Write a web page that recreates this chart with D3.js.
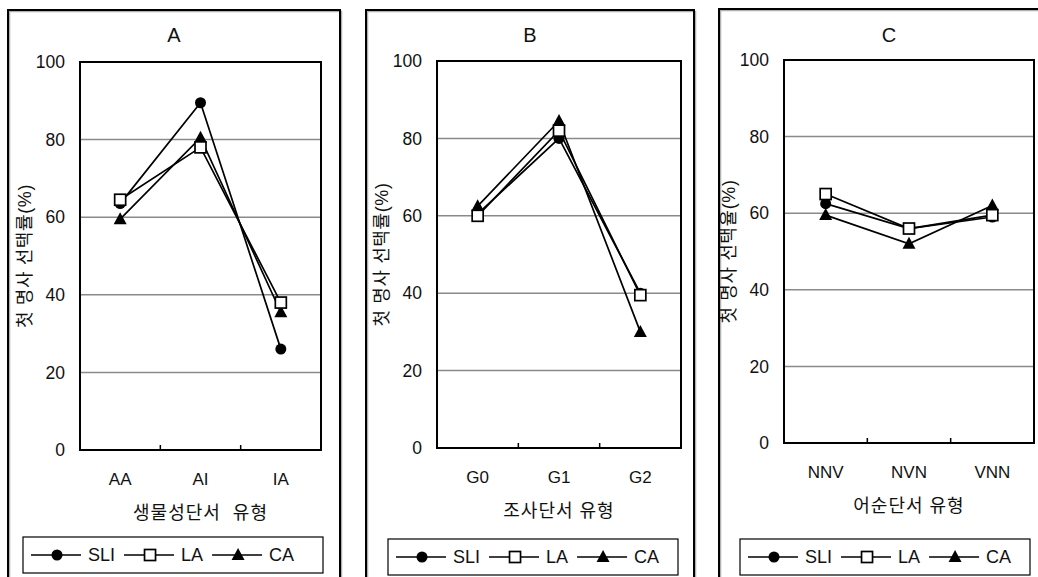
<!DOCTYPE html>
<html><head><meta charset="utf-8">
<script src="https://cdn.jsdelivr.net/npm/d3@7/dist/d3.min.js"></script>
<style>
html,body{margin:0;padding:0;background:#fff;}
svg{display:block;font-family:"Liberation Sans","Noto Sans CJK KR",sans-serif;}
</style></head>
<body><svg id="chart" width="1038" height="577"></svg>
<script>
// ---- data ----
const seriesNames = ["SLI", "LA", "CA"];
const yTicks = [0, 20, 40, 60, 80, 100];

const categoriesA = ["AA", "AI", "IA"];
const sliA = [63.5, 89.5, 26];
const laA  = [64.5, 78, 38];
const caA  = [59.5, 80.5, 35.5];

const categoriesB = ["G0", "G1", "G2"];
const sliB = [60.5, 80, 40];
const laB  = [60, 82, 39.5];
const caB  = [62.5, 84.5, 30];

const categoriesC = ["NNV", "NVN", "VNN"];
const sliC = [62.5, 56, 59];
const laC  = [65, 56, 59.5];
const caC  = [59.5, 52, 62];

const titles = ["A", "B", "C"];
const xTitles = ["생물성단서  유형", "조사단서 유형", "어순단서 유형"];
const yTitles = ["첫 명사 선택률(%)", "첫 명사 선택률(%)", "첫 명사 선택율(%)"];

// ---- layout ----
const panels = [
  {frame:{x0:8,x1:340,y0:10}, plot:{x0:80,x1:321,y0:62,y1:450}, legend:{x0:23,x1:323,y0:537,y1:573},
   cats:categoriesA, data:{SLI:sliA, LA:laA, CA:caA}},
  {frame:{x0:366,x1:694,y0:10}, plot:{x0:437,x1:681,y0:61,y1:448}, legend:{x0:388,x1:678,y0:539,y1:575},
   cats:categoriesB, data:{SLI:sliB, LA:laB, CA:caB}},
  {frame:{x0:719,x1:1062,y0:9}, plot:{x0:784,x1:1034,y0:60,y1:443}, legend:{x0:740,x1:1030,y0:539,y1:575},
   cats:categoriesC, data:{SLI:sliC, LA:laC, CA:caC}}
];

const FONT = '"Liberation Sans","Noto Sans CJK KR",sans-serif';
const svg = d3.select("#chart");

function marker(g, name, x, y) {
  if (name === "SLI") {
    g.append("circle").attr("cx", x).attr("cy", y).attr("r", 5.5).attr("fill", "#000");
  } else if (name === "LA") {
    g.append("rect").attr("x", x - 5.5).attr("y", y - 5.5).attr("width", 11).attr("height", 11)
      .attr("fill", "#fff").attr("stroke", "#000").attr("stroke-width", 1.7);
  } else {
    g.append("path").attr("d", `M${x},${y-7}L${x+6.5},${y+5}L${x-6.5},${y+5}Z`).attr("fill", "#000");
  }
}

panels.forEach((p, i) => {
  const g = svg.append("g");
  const fb = 600;
  g.append("path").attr("d", `M${p.frame.x0+1.5},${fb}V${p.frame.y0+1.5}H${p.frame.x1+1.5}V${fb}`)
    .attr("fill", "none").attr("stroke", "#b0b0b0").attr("stroke-width", 1.5);
  g.append("path").attr("d", `M${p.frame.x0},${fb}V${p.frame.y0}H${p.frame.x1}V${fb}`)
    .attr("fill", "none").attr("stroke", "#000").attr("stroke-width", 2);

  const x = d3.scaleBand().domain(p.cats).range([p.plot.x0, p.plot.x1]);
  const y = d3.scaleLinear().domain([0, 100]).range([p.plot.y1, p.plot.y0]);
  const cx = c => x(c) + x.bandwidth() / 2;

  g.append("g").selectAll("line").data(yTicks.filter(t => t > 0 && t < 100)).join("line")
    .attr("x1", p.plot.x0).attr("x2", p.plot.x1).attr("y1", d => y(d)).attr("y2", d => y(d))
    .attr("stroke", "#8a8a8a").attr("stroke-width", 1.5);

  const yAxis = d3.axisLeft(y).tickValues(yTicks).tickSize(0).tickPadding(15);
  const ya = g.append("g").attr("transform", `translate(${p.plot.x0},0)`).call(yAxis);
  ya.select(".domain").remove();
  ya.selectAll("text").attr("font-size", 17.5).attr("fill", "#111").attr("font-family", FONT);

  const xAxis = d3.axisBottom(x).tickSize(0).tickPadding(23);
  const xa = g.append("g").attr("transform", `translate(0,${p.plot.y1})`).call(xAxis);
  xa.select(".domain").remove();
  xa.selectAll("text").attr("font-size", 17).attr("fill", "#111").attr("font-family", FONT);

  g.append("g").selectAll("line").data(p.cats.slice(1)).join("line")
    .attr("x1", d => x(d)).attr("x2", d => x(d)).attr("y1", p.plot.y1).attr("y2", p.plot.y1 - 5)
    .attr("stroke", "#000").attr("stroke-width", 1.5);

  g.append("rect").attr("x", p.plot.x0).attr("y", p.plot.y0)
    .attr("width", p.plot.x1 - p.plot.x0).attr("height", p.plot.y1 - p.plot.y0)
    .attr("fill", "none").attr("stroke", "#000").attr("stroke-width", 2);

  const line = d3.line().x((d, j) => cx(p.cats[j])).y(d => y(d));
  seriesNames.forEach(s => {
    g.append("path").attr("d", line(p.data[s])).attr("fill", "none")
      .attr("stroke", "#000").attr("stroke-width", 1.7);
  });
  ["CA", "SLI", "LA"].forEach(s => {
    p.data[s].forEach((v, j) => marker(g, s, cx(p.cats[j]), y(v)));
  });

  const fcx = (p.frame.x0 + Math.min(p.frame.x1, 1058)) / 2;
  g.append("text").attr("x", i === 2 ? 889 : fcx).attr("y", 35).attr("dy", "0.35em")
    .attr("text-anchor", "middle").attr("font-size", 20).attr("fill", "#111").text(titles[i]);

  g.append("text").attr("x", (p.plot.x0 + p.plot.x1) / 2).attr("y", p.plot.y1 + 63).attr("dy", "0.35em")
    .attr("text-anchor", "middle").attr("font-size", 18).attr("letter-spacing", 1).attr("fill", "#111")
    .style("white-space", "pre").text(xTitles[i]);

  g.append("text").attr("transform", `translate(${p.plot.x0 - 55},${(p.plot.y0 + p.plot.y1) / 2}) rotate(-90)`)
    .attr("dy", "0.35em").attr("text-anchor", "middle").attr("font-size", 18).attr("letter-spacing", 0.6)
    .attr("fill", "#111").text(yTitles[i]);

  const L = p.legend;
  g.append("rect").attr("x", L.x0).attr("y", L.y0).attr("width", L.x1 - L.x0).attr("height", L.y1 - L.y0)
    .attr("fill", "#fff").attr("stroke", "#000").attr("stroke-width", 1.2);
  const ly = (L.y0 + L.y1) / 2;
  let lx = L.x0 + 8;
  seriesNames.forEach(s => {
    g.append("line").attr("x1", lx).attr("x2", lx + 50).attr("y1", ly).attr("y2", ly)
      .attr("stroke", "#000").attr("stroke-width", 1.7);
    marker(g, s, lx + 26, ly);
    const t = g.append("text").attr("x", lx + 57).attr("y", ly).attr("dy", "0.35em")
      .attr("font-size", 18).attr("fill", "#111").text(s);
    lx = lx + 57 + t.node().getComputedTextLength() + 9;
  });
});
</script></body></html>
